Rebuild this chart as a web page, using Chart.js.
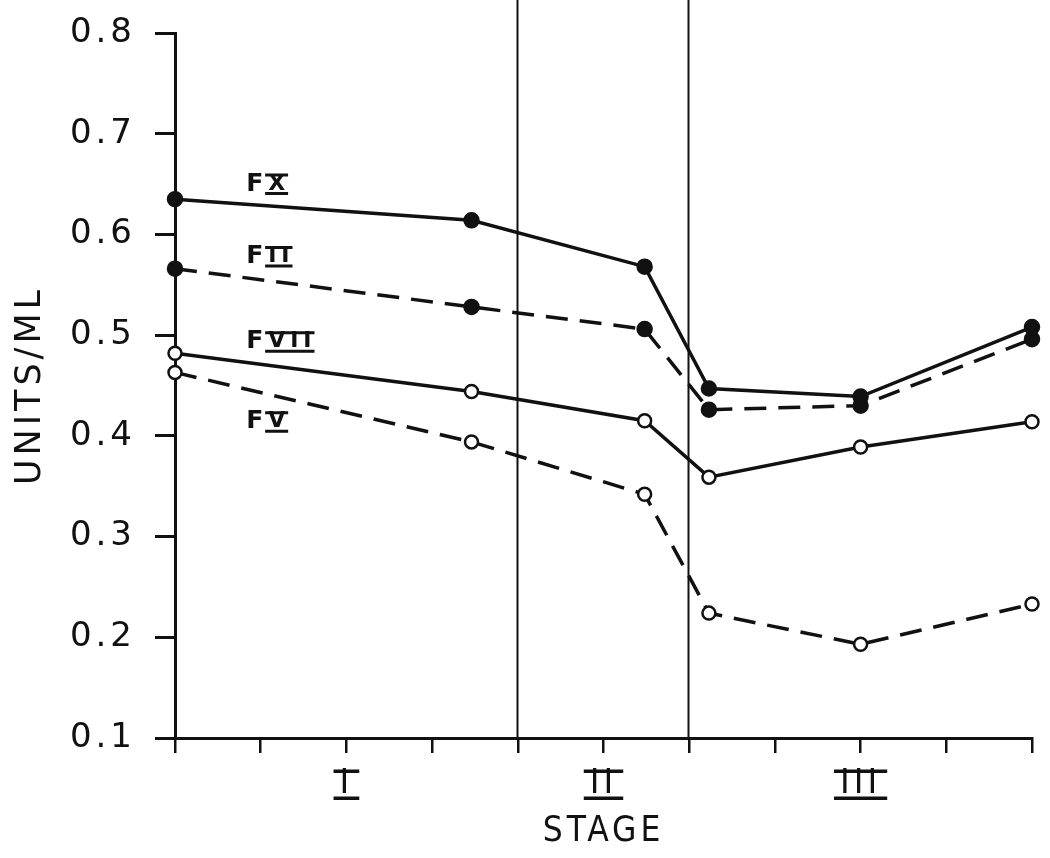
<!DOCTYPE html>
<html>
<head>
<meta charset="utf-8">
<title>Units/ml by stage</title>
<script src="https://cdn.jsdelivr.net/npm/chart.js"></script>
<style>
  html, body { margin: 0; padding: 0; background: #fff; }
  #wrap { width: 1050px; height: 858px; }
</style>
</head>
<body>
<div id="wrap"><canvas id="chart" width="1050" height="858"></canvas></div>
<script>
// sample positions along the stage axis (same for every factor)
var sampleX = [0, 3.46, 5.48, 6.23, 8, 10];

// units/ml for each clotting factor
var fX   = [0.635, 0.614, 0.568, 0.447, 0.439, 0.508];
var fII  = [0.566, 0.528, 0.506, 0.426, 0.430, 0.496];
var fVII = [0.482, 0.444, 0.415, 0.359, 0.389, 0.414];
var fV   = [0.463, 0.394, 0.342, 0.224, 0.193, 0.233];

var factorNames = ['X', 'II', 'VII', 'V'];

// stage axis
var stageTicks = [2, 5, 8];
var stageLabels = ['I', 'II', 'III'];
var stageBounds = [4, 6];

var ink = '#111';

function pts(arr) {
    return arr.map(function (v, i) { return { x: sampleX[i], y: v }; });
}

function series(vals, dashed, filled) {
    return {
        data: pts(vals),
        borderColor: ink,
        borderWidth: 3.5,
        borderDash: dashed ? [22, 12] : [],
        pointRadius: filled ? 7 : 6.5,
        pointBorderWidth: 2.5,
        pointBorderColor: ink,
        pointBackgroundColor: filled ? ink : '#fff',
        tension: 0,
        clip: false
    };
}

// label anchors for the factor names (data coords)
var nameAnchors = [[0.83, 0.650], [0.83, 0.578], [0.83, 0.4935], [0.83, 0.414]];

function bars(ctx, x0, x1, yTop, yBot, lw) {
    ctx.lineWidth = lw;
    ctx.beginPath();
    ctx.moveTo(x0, yTop); ctx.lineTo(x1, yTop);
    ctx.moveTo(x0, yBot); ctx.lineTo(x1, yBot);
    ctx.stroke();
}

var decor = {
    id: 'decor',
    beforeDraw: function (chart) {
        chart.ctx.letterSpacing = '4px';
    },
    beforeDatasetsDraw: function (chart) {
        var ctx = chart.ctx, xs = chart.scales.x, area = chart.chartArea;
        ctx.save();
        ctx.strokeStyle = ink;
        ctx.lineWidth = 2;
        stageBounds.forEach(function (b) {
            var px = Math.round(xs.getPixelForValue(b)) - 0.5;
            ctx.beginPath();
            ctx.moveTo(px, 0);
            ctx.lineTo(px, area.bottom);
            ctx.stroke();
        });
        ctx.restore();
    },
    afterDraw: function (chart) {
        var ctx = chart.ctx, xs = chart.scales.x, ys = chart.scales.y;
        ctx.save();
        ctx.strokeStyle = ink;
        ctx.fillStyle = ink;

        // bars on the roman stage numerals
        var tf = xs.options.ticks.font;
        ctx.font = tf.size + 'px ' + tf.family;
        ctx.letterSpacing = '4px';
        var items = xs.getLabelItems ? xs.getLabelItems() : [];
        items.forEach(function (it) {
            if (!it.label) return;
            var cx = it.options.translation[0];
            var cy = it.options.translation[1] + (it.textOffset || 0);
            var w = ctx.measureText(it.label).width - 4;
            var half = w / 2 + 8;
            var capH = tf.size * 0.73;
            bars(ctx, cx - half, cx + half, cy - capH / 2 - 1.5, cy + capH / 2 + 1.5, 3.5);
        });

        // factor names
        factorNames.forEach(function (nm, i) {
            var x = xs.getPixelForValue(nameAnchors[i][0]);
            var y = ys.getPixelForValue(nameAnchors[i][1]);
            ctx.letterSpacing = '0px';
            ctx.textAlign = 'left';
            ctx.textBaseline = 'middle';
            ctx.font = 'bold 25px "DejaVu Sans"';
            ctx.fillText('F', x, y);
            var nx = x + 22;
            ctx.letterSpacing = '5px';
            ctx.font = 'bold 22px "DejaVu Sans"';
            ctx.fillText(nm, nx, y);
            var w = ctx.measureText(nm).width - 5;
            var capH = 22 * 0.73;
            bars(ctx, nx - 3, nx + w + 3, y - capH / 2 - 1, y + capH / 2 + 1.5, 3);
        });
        ctx.restore();
    }
};

Chart.defaults.font.family = '"DejaVu Sans", sans-serif';
Chart.defaults.color = ink;

var chart = new Chart(document.getElementById('chart').getContext('2d'), {
    type: 'line',
    data: {
        datasets: [
            series(fX, false, true),
            series(fII, true, true),
            series(fVII, false, false),
            series(fV, true, false)
        ]
    },
    options: {
        responsive: false,
        animation: false,
        events: [],
        layout: { padding: { top: 33, right: 18, left: 0, bottom: 0 } },
        plugins: { legend: { display: false }, tooltip: { enabled: false } },
        scales: {
            x: {
                type: 'linear',
                min: 0,
                max: 10,
                border: { color: ink, width: 3 },
                grid: { drawOnChartArea: false, drawTicks: true, tickLength: 15, color: ink, lineWidth: 2.5 },
                ticks: {
                    stepSize: 1,
                    autoSkip: false,
                    maxRotation: 0,
                    padding: 12,
                    font: { size: 33, family: '"DejaVu Sans"' },
                    callback: function (v) {
                        var k = stageTicks.indexOf(v);
                        return k < 0 ? '' : stageLabels[k];
                    }
                },
                title: {
                    display: true,
                    text: 'STAGE',
                    font: { size: 35, family: '"DejaVu Sans Condensed", "Liberation Sans Narrow", "DejaVu Sans"' },
                    padding: { top: 0, bottom: 5 }
                },
                afterFit: function (s) {
                    s.height = 120;
                    s.paddingLeft = 0;
                    s.paddingRight = 0;
                }
            },
            y: {
                min: 0.1,
                max: 0.8,
                border: { color: ink, width: 3 },
                grid: { drawOnChartArea: false, drawTicks: true, tickLength: 20, color: ink, lineWidth: 3 },
                ticks: {
                    stepSize: 0.1,
                    padding: 19,
                    font: { size: 34, family: '"DejaVu Sans"' },
                    callback: function (v) { return v.toFixed(1); }
                },
                title: {
                    display: true,
                    text: 'UNITS/ML',
                    font: { size: 35, family: '"DejaVu Sans"' },
                    padding: { top: 10, bottom: 0 }
                },
                afterFit: function (s) {
                    s.width = 175;
                    s.paddingTop = 0;
                    s.paddingBottom = 0;
                }
            }
        }
    },
    plugins: [decor]
});
</script>
</body>
</html>
